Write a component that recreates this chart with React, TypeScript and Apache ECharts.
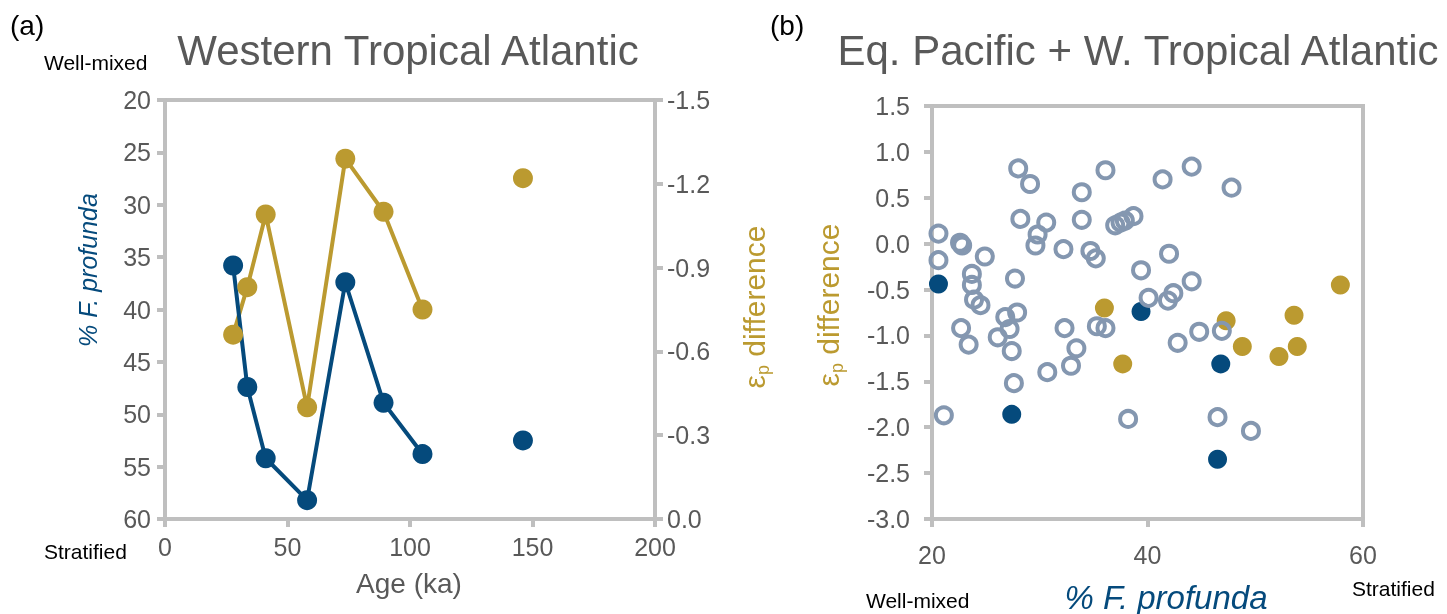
import React, { useEffect, useRef } from "react";
import * as echarts from "echarts";

// ---------- Data ----------
// Panel (a): Western Tropical Atlantic
const ageConnected = [27.8, 33.6, 41.1, 58.0, 73.6, 89.2, 105.1];
const profundaConnected = [35.8, 47.4, 54.2, 58.2, 37.4, 48.9, 53.8];
const epsConnected = [-0.66, -0.83, -1.09, -0.4, -1.29, -1.1, -0.75];
const ageLone = [146.1];
const profundaLone = [52.5];
const epsLone = [-1.22];

const ageTicks = [0, 50, 100, 150, 200];
const profundaTicks = [20, 25, 30, 35, 40, 45, 50, 55, 60];
const epsTicksA = [-1.5, -1.2, -0.9, -0.6, -0.3, 0.0];

// Panel (b): Eq. Pacific + W. Tropical Atlantic
const openX = [20.6, 20.6, 21.1, 22.6, 22.8, 22.7, 23.4, 23.7, 23.7, 23.9, 24.5, 24.9, 26.1, 26.8, 27.2, 27.9, 27.7, 27.4, 27.6, 28.0, 29.1, 28.2, 29.6, 29.8, 30.6, 30.7, 32.2, 32.3, 32.9, 33.4, 33.9, 33.9, 34.7, 35.2, 35.3, 36.1, 36.1, 37.0, 37.5, 37.9, 38.7, 39.4, 40.1, 38.2, 41.4, 42.0, 41.9, 42.4, 42.8, 44.1, 44.1, 44.8, 46.9, 46.5, 47.8, 49.6];
const openY = [0.11, -0.18, -1.87, 0.01, -0.02, -0.92, -1.1, -0.33, -0.45, -0.61, -0.67, -0.14, -1.02, -0.8, -0.93, -0.75, -0.38, -1.17, -1.52, 0.82, 0.65, 0.27, -0.02, 0.1, 0.23, -1.4, -0.06, -0.92, -1.33, -1.14, 0.56, 0.26, -0.08, -0.16, -0.9, -0.92, 0.8, 0.2, 0.23, 0.25, 0.3, -0.29, -0.59, -1.91, 0.7, -0.11, -0.62, -0.54, -1.08, 0.84, -0.41, -0.96, -0.95, -1.89, 0.61, -2.04];
const navyX = [20.6, 27.4, 39.4, 46.8, 46.5];
const navyY = [-0.44, -1.86, -0.74, -1.31, -2.35];
const goldX = [36.0, 37.7, 47.3, 48.8, 52.2, 53.6, 53.9, 57.9];
const goldY = [-0.7, -1.31, -0.84, -1.12, -1.23, -0.78, -1.12, -0.45];

const profundaTicksB = [20, 40, 60];
const epsTicksB = [-3.0, -2.5, -2.0, -1.5, -1.0, -0.5, 0.0, 0.5, 1.0, 1.5];

// ---------- Styles ----------
const NAVY = "#054a7c";
const GOLD = "#bb9a30";
const OPEN = "#8497b0";
const AXIS = "#bfbfbf";
const TXT = "#595959";
const FONT = "'Liberation Sans', Arial, sans-serif";

const zip = (a: number[], b: number[]) => a.map((v, i) => [v, b[i]]);
const fmt1 = (v: number) => (Math.abs(v) < 1e-9 ? "0.0" : v.toFixed(1));

function epsLabel(x: number, y: number) {
  return {
    type: "text",
    x,
    y,
    rotation: Math.PI / 2,
    style: {
      text: "{e|ε}{s|p}{d| difference}",
      align: "center",
      verticalAlign: "middle",
      rich: {
        e: { fontSize: 30, fill: GOLD, fontFamily: FONT, lineHeight: 36, verticalAlign: "middle" },
        s: { fontSize: 18, fill: GOLD, fontFamily: FONT, lineHeight: 36, verticalAlign: "bottom" },
        d: { fontSize: 30, fill: GOLD, fontFamily: FONT, lineHeight: 36, verticalAlign: "middle" },
      },
    },
  };
}

function txt(text: string, x: number, y: number, size: number, color: string, align = "left", extra: any = {}) {
  return {
    type: "text",
    x,
    y,
    style: { text, fontSize: size, fill: color, fontFamily: FONT, align, verticalAlign: "middle", ...extra },
  };
}

export default function App() {
  const ref = useRef<HTMLDivElement>(null);
  useEffect(() => {
    if (!ref.current) return;
    const chart = echarts.init(ref.current, undefined, { renderer: "svg" });
    const axisLine = { show: true, onZero: false, lineStyle: { color: AXIS, width: 4 } };
    const axisTick = { show: true, inside: false, length: 8, lineStyle: { color: AXIS, width: 4 } };
    const labelStyle = { color: TXT, fontSize: 25, fontFamily: FONT };

    chart.setOption({
      animation: false,
      grid: [
        { left: 165, top: 100, width: 490, height: 419, show: true, borderColor: AXIS, borderWidth: 4, backgroundColor: "transparent" },
        { left: 932, top: 106, width: 431, height: 413, show: true, borderColor: AXIS, borderWidth: 4, backgroundColor: "transparent" },
      ],
      xAxis: [
        {
          type: "value", gridIndex: 0, min: ageTicks[0], max: ageTicks[ageTicks.length - 1], interval: 50,
          axisLine, axisTick, splitLine: { show: false },
          axisLabel: { ...labelStyle, margin: 15 },
        },
        {
          type: "value", gridIndex: 1, min: profundaTicksB[0], max: profundaTicksB[profundaTicksB.length - 1], interval: 20,
          axisLine, axisTick, splitLine: { show: false },
          axisLabel: { ...labelStyle, margin: 23 },
        },
      ],
      yAxis: [
        {
          type: "value", gridIndex: 0, min: profundaTicks[0], max: profundaTicks[profundaTicks.length - 1], interval: 5, inverse: true,
          position: "left", axisLine, axisTick, splitLine: { show: false },
          axisLabel: { ...labelStyle, margin: 14 },
        },
        {
          type: "value", gridIndex: 0, min: epsTicksA[0], max: epsTicksA[epsTicksA.length - 1], interval: 0.3, inverse: true,
          position: "right", axisLine, axisTick, splitLine: { show: false },
          axisLabel: { ...labelStyle, margin: 12, formatter: fmt1 },
        },
        {
          type: "value", gridIndex: 1, min: epsTicksB[0], max: epsTicksB[epsTicksB.length - 1], interval: 0.5,
          position: "left", axisLine, axisTick, splitLine: { show: false },
          axisLabel: { ...labelStyle, margin: 22, formatter: fmt1 },
        },
      ],
      series: [
        {
          type: "line", xAxisIndex: 0, yAxisIndex: 1, data: zip(ageConnected, epsConnected),
          symbol: "circle", symbolSize: 20, lineStyle: { color: GOLD, width: 4 }, itemStyle: { color: GOLD, opacity: 1 },
        },
        {
          type: "scatter", xAxisIndex: 0, yAxisIndex: 1, data: zip(ageLone, epsLone),
          symbol: "circle", symbolSize: 20, itemStyle: { color: GOLD, opacity: 1 },
        },
        {
          type: "line", xAxisIndex: 0, yAxisIndex: 0, data: zip(ageConnected, profundaConnected),
          symbol: "circle", symbolSize: 20, lineStyle: { color: NAVY, width: 4 }, itemStyle: { color: NAVY, opacity: 1 },
        },
        {
          type: "scatter", xAxisIndex: 0, yAxisIndex: 0, data: zip(ageLone, profundaLone),
          symbol: "circle", symbolSize: 20, itemStyle: { color: NAVY, opacity: 1 },
        },
        {
          type: "scatter", xAxisIndex: 1, yAxisIndex: 2, data: zip(navyX, navyY),
          symbol: "circle", symbolSize: 19, itemStyle: { color: NAVY, opacity: 1 },
        },
        {
          type: "scatter", xAxisIndex: 1, yAxisIndex: 2, data: zip(goldX, goldY),
          symbol: "circle", symbolSize: 19, itemStyle: { color: GOLD, opacity: 1 },
        },
        {
          type: "scatter", xAxisIndex: 1, yAxisIndex: 2, data: zip(openX, openY),
          symbol: "circle", symbolSize: 16, itemStyle: { color: "rgba(255,255,255,0)", borderColor: OPEN, borderWidth: 4, opacity: 1 },
        },
      ],
      graphic: [
        txt("(a)", 10, 25, 28, "#000"),
        txt("Western Tropical Atlantic", 408, 50, 42, TXT, "center"),
        txt("Well-mixed", 44, 62, 21, "#000"),
        txt("Stratified", 44, 551, 21, "#000"),
        { ...txt("% F. profunda", 88, 270, 25, NAVY, "center", { fontStyle: "italic" }), rotation: Math.PI / 2 },
        epsLabel(754, 307),
        txt("Age (ka)", 409, 583, 28, TXT, "center"),
        txt("(b)", 770, 25, 28, "#000"),
        txt("Eq. Pacific + W. Tropical Atlantic", 1138, 50, 42, TXT, "center"),
        epsLabel(828, 305),
        txt("% F. profunda", 1166, 597, 33, NAVY, "center", { fontStyle: "italic" }),
        txt("Well-mixed", 866, 600, 21, "#000"),
        txt("Stratified", 1352, 588, 21, "#000"),
      ],
    });
    return () => chart.dispose();
  }, []);
  return <div ref={ref} style={{ position: "fixed", left: 0, top: 0, width: 1447, height: 614 }} />;
}
